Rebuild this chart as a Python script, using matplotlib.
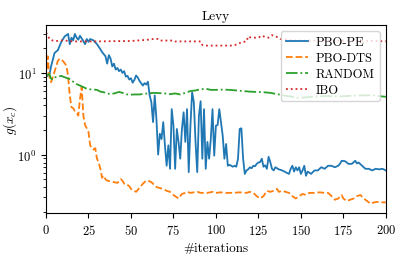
"""Levy benchmark: best value g(x_c) against iterations for four methods."""

import matplotlib

matplotlib.use("Agg")
import matplotlib.pyplot as plt

# PBO-PE (solid blue)
pe_iter = [0, 2, 3, 5, 7, 9, 11, 13, 14, 15, 16, 17, 18, 19, 20, 22, 23, 24, 25, 26,
           28, 30, 32, 33, 35, 36, 37, 38, 39, 40, 41, 42, 43, 44, 45, 46, 47, 48, 49, 50,
           51, 52, 53, 54, 55, 56, 57, 58, 59, 60, 61, 62, 63, 64, 65, 66, 67, 68, 69, 70,
           71, 72, 73, 74, 75, 76, 77, 78, 79, 80, 81, 82, 83, 84, 85, 86, 87, 88, 89, 90,
           91, 92, 93, 94, 95, 96, 97, 98, 99, 100, 101, 102, 103, 104, 105, 106, 107, 108, 109, 110,
           111, 112, 113, 114, 115, 116, 117, 118, 119, 120, 121, 122, 123, 124, 125, 126, 127, 128, 129, 130,
           131, 132, 133, 134, 135, 136, 137, 139, 141, 143, 144, 145, 146, 147, 148, 149, 150, 151, 152, 153,
           154, 156, 158, 160, 162, 164, 166, 168, 170, 172, 173, 174, 176, 178, 180, 182, 183, 184, 186, 188,
           190, 192, 194, 196, 198, 200]
pe_val = [9.0, 9.5, 12.0, 17.5, 19.0, 24.0, 28.0, 30.0, 22.5, 27.0, 25.0, 30.0, 27.0, 25.5, 28.5, 24.5, 22.5, 26.0, 24.0, 26.0,
          25.0, 22.5, 19.5, 18.0, 16.0, 13.0, 16.5, 15.0, 12.0, 13.0, 11.0, 11.5, 10.5, 11.0, 10.0, 10.5, 9.0, 9.2, 8.3, 8.6,
          7.6, 8.2, 9.3, 8.8, 8.0, 7.5, 7.0, 7.5, 7.2, 7.8, 5.3, 4.4, 2.5, 5.3, 2.7, 1.0, 1.8, 1.55, 2.5, 1.3,
          0.73, 1.3, 0.67, 3.6, 2.26, 0.67, 2.06, 1.43, 0.89, 2.06, 3.3, 1.43, 3.6, 0.61, 2.26, 5.8, 4.4, 1.43, 0.61, 3.0,
          4.5, 0.89, 3.6, 0.67, 1.43, 0.89, 1.56, 3.6, 0.97, 2.26, 2.3, 3.6, 2.5, 1.7, 0.89, 1.35, 0.73, 0.75, 0.73, 0.71,
          0.73, 0.71, 0.89, 2.06, 2.1, 0.89, 0.58, 0.64, 0.66, 0.70, 0.68, 0.73, 0.72, 0.77, 0.80, 0.81, 0.89, 0.71, 0.74, 0.67,
          0.94, 0.81, 0.67, 0.64, 0.70, 0.68, 0.66, 0.64, 0.61, 0.58, 0.67, 0.73, 0.62, 0.70, 0.64, 0.70, 0.58, 0.64, 0.73, 0.55,
          0.62, 0.58, 0.64, 0.64, 0.70, 0.67, 0.73, 0.73, 0.70, 0.73, 0.77, 0.84, 0.83, 0.77, 0.77, 0.84, 0.78, 0.80, 0.73, 0.67,
          0.67, 0.64, 0.67, 0.66, 0.67, 0.64]

# PBO-DTS (dashed orange)
dts_iter = [0, 1, 2, 3, 5, 7, 8, 10, 12, 13, 14, 15, 16, 17, 18, 19, 20, 21, 22, 23,
            24, 25, 26, 27, 28, 29, 30, 31, 32, 33, 34, 35, 36, 38, 40, 42, 43, 44, 45, 46,
            47, 49, 50, 52, 53, 55, 57, 59, 60, 62, 64, 65, 67, 69, 71, 73, 75, 77, 78, 80,
            82, 83, 85, 87, 89, 91, 93, 95, 98, 100, 103, 106, 110, 114, 118, 120, 122, 124, 126, 128,
            130, 132, 134, 136, 137, 139, 141, 143, 145, 147, 149, 151, 153, 155, 158, 161, 164, 166, 168, 170,
            172, 174, 175, 177, 179, 181, 183, 185, 187, 189, 191, 193, 196, 198, 200]
dts_val = [8.5, 16.0, 9.0, 7.7, 10.3, 14.1, 14.9, 14.0, 12.3, 9.2, 5.3, 3.8, 3.7, 3.4, 3.3, 3.0, 4.8, 6.7, 3.0, 2.3,
           2.1, 1.9, 1.3, 1.2, 1.15, 1.2, 0.89, 0.8, 0.67, 0.52, 0.55, 0.50, 0.48, 0.47, 0.46, 0.45, 0.47, 0.50, 0.48, 0.44,
           0.44, 0.41, 0.38, 0.36, 0.35, 0.39, 0.44, 0.48, 0.48, 0.46, 0.42, 0.40, 0.39, 0.38, 0.36, 0.35, 0.32, 0.30, 0.29, 0.33,
           0.34, 0.35, 0.34, 0.345, 0.35, 0.34, 0.34, 0.34, 0.35, 0.34, 0.345, 0.34, 0.34, 0.345, 0.34, 0.35, 0.34, 0.31, 0.29, 0.31,
           0.36, 0.35, 0.36, 0.38, 0.35, 0.36, 0.35, 0.34, 0.31, 0.29, 0.31, 0.33, 0.32, 0.34, 0.34, 0.345, 0.34, 0.34, 0.31, 0.28,
           0.29, 0.32, 0.29, 0.27, 0.28, 0.29, 0.31, 0.32, 0.29, 0.27, 0.25, 0.26, 0.265, 0.26, 0.26]

# RANDOM (dash-dot green)
rnd_iter = [0, 1, 2, 3, 4, 5, 7, 9, 10, 12, 14, 16, 18, 20, 22, 24, 26, 28, 30, 32,
            34, 36, 38, 40, 43, 45, 47, 49, 52, 55, 58, 61, 64, 67, 70, 73, 76, 79, 82, 85,
            88, 91, 94, 97, 100, 104, 108, 112, 116, 120, 124, 128, 132, 136, 140, 144, 148, 152, 156, 160,
            164, 168, 172, 176, 180, 184, 188, 192, 196, 200]
rnd_val = [8.9, 9.5, 9.7, 8.5, 8.3, 8.8, 9.0, 9.2, 9.0, 8.7, 8.4, 7.8, 7.3, 7.0, 6.7, 6.4, 6.3, 6.25, 6.2, 5.9,
           5.8, 5.6, 5.5, 5.6, 5.85, 5.7, 5.5, 5.4, 5.45, 5.45, 5.55, 5.65, 5.7, 5.65, 5.6, 5.5, 5.6, 5.45, 5.7, 6.0,
           6.1, 6.3, 6.4, 6.2, 6.2, 6.25, 6.2, 6.1, 6.0, 5.9, 5.85, 5.8, 5.7, 5.5, 5.3, 5.15, 4.95, 5.0, 5.1, 5.15,
           5.2, 5.2, 5.15, 5.2, 5.25, 5.3, 5.3, 5.35, 5.2, 5.1]

# IBO (dotted red)
ibo_iter = [0, 1, 2, 4, 6, 8, 10, 12, 14, 16, 20, 30, 40, 50, 60, 63, 66, 67, 75, 76,
            91, 92, 94, 110, 113, 115, 118, 119, 120, 122, 125, 127, 129, 131, 133, 135, 137, 138, 140, 145,
            160, 180, 197, 200]
ibo_val = [31.0, 29.0, 26.0, 24.9, 24.5, 25.0, 25.0, 24.8, 24.5, 24.3, 24.3, 24.3, 24.5, 24.6, 25.5, 26.0, 26.0, 24.9, 24.9, 24.3,
           24.3, 22.0, 21.6, 21.6, 22.5, 23.8, 24.3, 28.0, 27.3, 27.0, 27.0, 28.6, 27.5, 27.0, 29.0, 28.0, 27.0, 26.0, 26.0, 24.9,
           24.9, 24.9, 24.5, 24.3]

x_ticks = [0, 25, 50, 75, 100, 125, 150, 175, 200]


def main() -> None:
    plt.rcParams["font.family"] = "serif"
    plt.rcParams["font.serif"] = ["cmr10"]
    plt.rcParams["mathtext.fontset"] = "cm"
    plt.rcParams["axes.formatter.use_mathtext"] = True
    plt.rcParams["font.size"] = 9

    fig = plt.figure(figsize=(4.07, 2.55), dpi=100)
    ax = fig.add_axes([0.113, 0.161, 0.835, 0.737])

    ax.plot(pe_iter, pe_val, color="C0", linestyle="-", linewidth=1.3, label="PBO-PE")
    ax.plot(dts_iter, dts_val, color="C1", linestyle="--", linewidth=1.3, label="PBO-DTS")
    ax.plot(rnd_iter, rnd_val, color="C2", linestyle="-.", linewidth=1.3, label="RANDOM")
    ax.plot(ibo_iter, ibo_val, color="C3", linestyle=":", linewidth=1.3, label="IBO")

    ax.set_yscale("log")
    ax.set_xlim(0, 200)
    ax.set_ylim(0.193, 38.6)
    ax.set_xticks(x_ticks)
    ax.set_title("Levy", fontsize=9.5, pad=4)
    ax.set_xlabel("#iterations", fontsize=9.5)
    ax.set_ylabel("$g(x_c)$", fontsize=9.5)
    ax.yaxis.set_label_coords(-0.08, 0.5)
    ax.legend(loc="upper right", fontsize=9, handlelength=1.8,
              handletextpad=0.6, borderpad=0.4, labelspacing=0.3)

    fig.savefig("out.png", dpi=100)
    plt.close(fig)


if __name__ == "__main__":
    main()
